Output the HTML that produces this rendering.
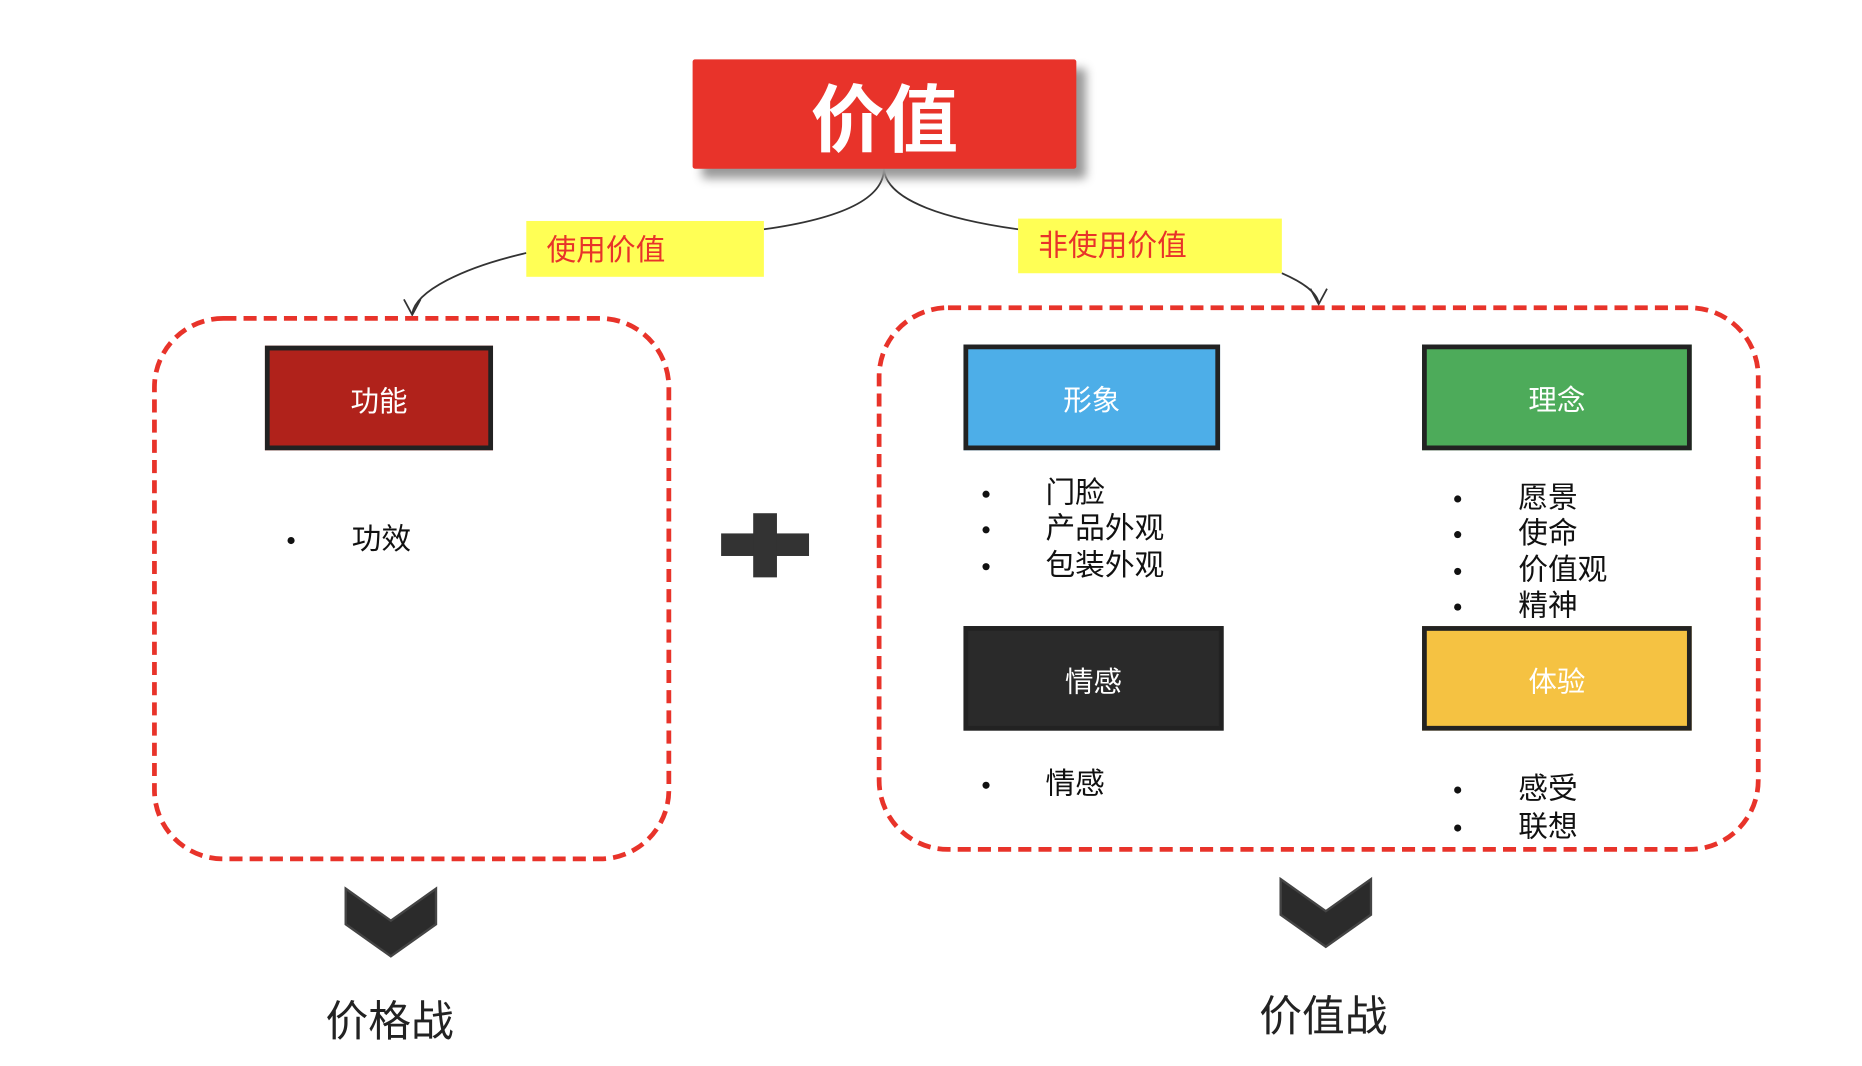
<!DOCTYPE html>
<html><head><meta charset="utf-8"><style>
html,body{margin:0;padding:0;background:#fff;overflow:hidden}
#wrap{width:1862px;height:1066px;position:relative;overflow:hidden}
#s{position:absolute;left:0;top:0;width:1570px;height:900px;transform:scale(1.188);transform-origin:0 0;font-family:"Liberation Sans","Noto Sans CJK SC",sans-serif}
.a{position:absolute}
.box{position:absolute;box-sizing:border-box;border:4px solid #222;color:#fff;font-size:24px;display:flex;align-items:center;justify-content:center}
.t{position:absolute;font-size:25px;color:#111;line-height:30px}
.b{position:absolute;width:6px;height:6px;border-radius:3px;background:#111}
</style></head><body><div id="wrap"><div id="s">
<svg class="a" style="left:0;top:0" width="1570" height="900">
<path d="M744 142 C744 170 700 185 643 193" fill="none" stroke="#333" stroke-width="1.5"/>
<path d="M744 142 C746 170 800 185 857 193" fill="none" stroke="#333" stroke-width="1.5"/>
<path d="M443 213 C390 225 350 245 347 264" fill="none" stroke="#333" stroke-width="1.5"/>
<path d="M340 252 L347 265 L354 252" fill="none" stroke="#333" stroke-width="1.5"/>
<path d="M1079 230 C1095 237 1108 245 1110 255" fill="none" stroke="#333" stroke-width="1.5"/>
<path d="M1103 243 L1110 256 L1117 243" fill="none" stroke="#333" stroke-width="1.5"/>
<rect x="130" y="268" width="433" height="455" rx="58" fill="none" stroke="#e8332a" stroke-width="4" stroke-dasharray="11 6"/>
<rect x="740" y="259" width="740" height="456" rx="58" fill="none" stroke="#e8332a" stroke-width="4" stroke-dasharray="11 6"/>
<rect x="607" y="449" width="74" height="19" fill="#333"/>
<rect x="634" y="432" width="20" height="54" fill="#333"/>
<path d="M291 748 L329 775 L367 748 L367 778 L329 805 L291 778Z" fill="#2b2b2b" stroke="#444" stroke-width="2"/>
<path d="M1078 740 L1116 767 L1154 740 L1154 770 L1116 797 L1078 770Z" fill="#2b2b2b" stroke="#444" stroke-width="2"/>
</svg>
<div class="a" style="left:583px;top:50px;width:323px;height:92px;background:#e8332a;border-radius:2px;box-shadow:8px 8px 8px #999;color:#fff;font-size:62px;font-weight:bold;display:flex;align-items:center;justify-content:center">价值</div>
<div class="a" style="left:443px;top:186px;width:200px;height:47px;background:#ffff55;color:#e8332a;font-size:25px;line-height:50px;padding-left:17px;box-sizing:border-box">使用价值</div>
<div class="a" style="left:857px;top:184px;width:222px;height:46px;background:#ffff55;color:#e8332a;font-size:25px;line-height:46px;padding-left:17px;box-sizing:border-box">非使用价值</div>
<div class="box" style="left:223px;top:291px;width:192px;height:88px;background:#b0221b">功能</div>
<div class="box" style="left:811px;top:290px;width:216px;height:89px;background:#4daee8">形象</div>
<div class="box" style="left:1197px;top:290px;width:227px;height:89px;background:#4dab5a">理念</div>
<div class="box" style="left:811px;top:527px;width:219px;height:88px;background:#2a2a2a">情感</div>
<div class="box" style="left:1197px;top:527px;width:227px;height:88px;background:#f5c242">体验</div>
<div class="b" style="left:242px;top:452px"></div><div class="t" style="left:296px;top:439px">功效</div>
<div class="b" style="left:827px;top:413px"></div><div class="t" style="left:880px;top:400px">门脸</div>
<div class="b" style="left:827px;top:443px"></div><div class="t" style="left:880px;top:430px">产品外观</div>
<div class="b" style="left:827px;top:474px"></div><div class="t" style="left:880px;top:461px">包装外观</div>
<div class="b" style="left:1224px;top:417px"></div><div class="t" style="left:1278px;top:404px">愿景</div>
<div class="b" style="left:1224px;top:447px"></div><div class="t" style="left:1278px;top:434px">使命</div>
<div class="b" style="left:1224px;top:478px"></div><div class="t" style="left:1278px;top:465px">价值观</div>
<div class="b" style="left:1224px;top:508px"></div><div class="t" style="left:1278px;top:495px">精神</div>
<div class="b" style="left:827px;top:658px"></div><div class="t" style="left:880px;top:645px">情感</div>
<div class="b" style="left:1224px;top:662px"></div><div class="t" style="left:1278px;top:649px">感受</div>
<div class="b" style="left:1224px;top:694px"></div><div class="t" style="left:1278px;top:681px">联想</div>
<div class="a" style="left:228px;top:831px;width:200px;text-align:center;font-size:36px;color:#222">价格战</div>
<div class="a" style="left:1014px;top:827px;width:200px;text-align:center;font-size:36px;color:#222">价值战</div>
</div></div></body></html>
